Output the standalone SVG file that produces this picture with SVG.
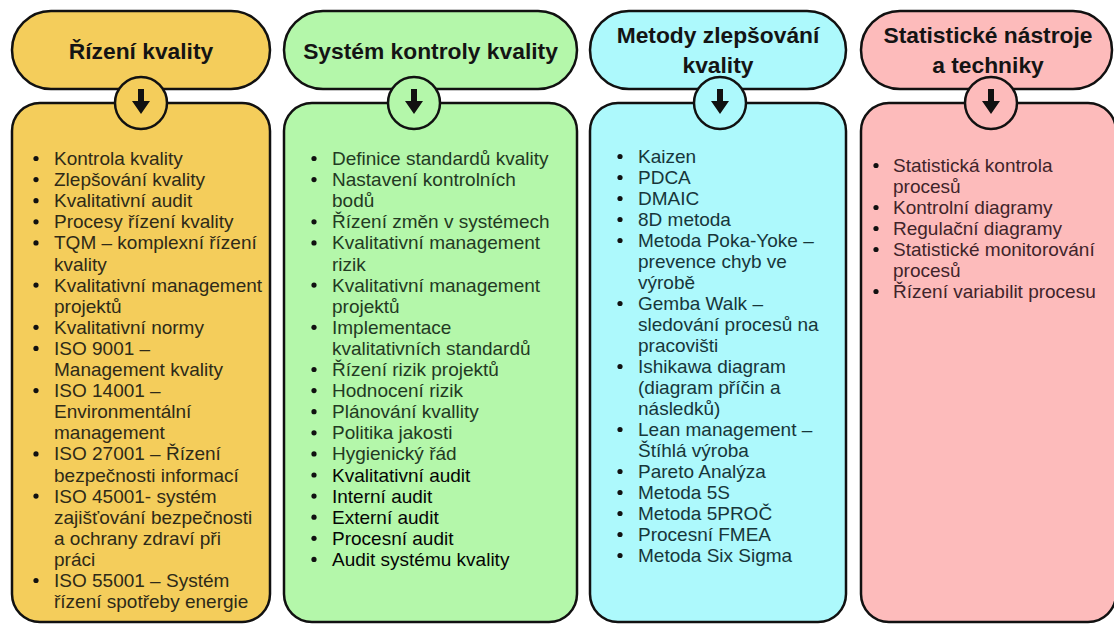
<svg xmlns="http://www.w3.org/2000/svg" width="1114" height="626" viewBox="0 0 1114 626">
<style>
.box{stroke:#111;stroke-width:2.5}
.y{fill:#F4CD5B}.g{fill:#B4F7AA}.b{fill:#ADF9FC}.p{fill:#FDBBBB}
.h{font-family:"Liberation Sans",Arial,sans-serif;font-weight:bold;font-size:22.8px;fill:#141414;text-anchor:middle}
.t{font-family:"Liberation Sans",Arial,sans-serif;font-size:19px}
.ty{fill:#2e2a18}.tg{fill:#233a23}.tb{fill:#17363a}.tp{fill:#40242a}
.dk{fill:#050505}
.bul{fill:#111}
.circ{stroke:#111;stroke-width:2.5}
.arr{fill:#111}
</style>
<defs>
<path id="arrow" d="M-3,-13 H3 V-1 H9 L0,12 L-9,-1 H-3 Z"/>
</defs>

<g id="col1">
<g id="header1"><rect class="box y" x="12" y="11" width="258" height="78" rx="39"/>
<text class="h" x="141" y="59">Řízení kvality</text></g>
<g id="body1"><rect class="box y" x="12" y="103" width="258" height="519" rx="28"/>
<g class="bul">
<circle cx="36" cy="158.5" r="2.6"/><circle cx="36" cy="179.6" r="2.6"/><circle cx="36" cy="200.7" r="2.6"/><circle cx="36" cy="221.8" r="2.6"/><circle cx="36" cy="242.9" r="2.6"/><circle cx="36" cy="285.1" r="2.6"/><circle cx="36" cy="327.3" r="2.6"/><circle cx="36" cy="348.4" r="2.6"/><circle cx="36" cy="390.6" r="2.6"/><circle cx="36" cy="453.9" r="2.6"/><circle cx="36" cy="496.1" r="2.6"/><circle cx="36" cy="580.5" r="2.6"/>
</g>
<text class="t ty">
<tspan x="54" y="165">Kontrola kvality</tspan>
<tspan x="54" y="186.1">Zlepšování kvality</tspan>
<tspan x="54" y="207.2">Kvalitativní audit</tspan>
<tspan x="54" y="228.3">Procesy řízení kvality</tspan>
<tspan x="54" y="249.4">TQM – komplexní řízení</tspan>
<tspan x="54" y="270.5">kvality</tspan>
<tspan x="54" y="291.6">Kvalitativní management</tspan>
<tspan x="54" y="312.7">projektů</tspan>
<tspan x="54" y="333.8">Kvalitativní normy</tspan>
<tspan x="54" y="354.9">ISO 9001 –</tspan>
<tspan x="54" y="376">Management kvality</tspan>
<tspan x="54" y="397.1">ISO 14001 –</tspan>
<tspan x="54" y="418.2">Environmentální</tspan>
<tspan x="54" y="439.3">management</tspan>
<tspan x="54" y="460.4">ISO 27001 – Řízení</tspan>
<tspan x="54" y="481.5">bezpečnosti informací</tspan>
<tspan x="54" y="502.6">ISO 45001- systém</tspan>
<tspan x="54" y="523.7">zajišťování bezpečnosti</tspan>
<tspan x="54" y="544.8">a ochrany zdraví při</tspan>
<tspan x="54" y="565.9">práci</tspan>
<tspan x="54" y="587">ISO 55001 – Systém</tspan>
<tspan x="54" y="608.1">řízení spotřeby energie</tspan>
</text></g>
</g>

<g id="col2">
<g id="header2"><rect class="box g" x="284" y="11" width="293" height="78" rx="39"/>
<text class="h" x="430.5" y="59">Systém kontroly kvality</text></g>
<g id="body2"><rect class="box g" x="284" y="103" width="293" height="519" rx="28"/>
<g class="bul">
<circle cx="314" cy="158.5" r="2.6"/><circle cx="314" cy="179.6" r="2.6"/><circle cx="314" cy="221.8" r="2.6"/><circle cx="314" cy="242.9" r="2.6"/><circle cx="314" cy="285.1" r="2.6"/><circle cx="314" cy="327.3" r="2.6"/><circle cx="314" cy="369.5" r="2.6"/><circle cx="314" cy="390.6" r="2.6"/><circle cx="314" cy="411.7" r="2.6"/><circle cx="314" cy="432.8" r="2.6"/><circle cx="314" cy="453.9" r="2.6"/><circle cx="314" cy="475" r="2.6"/><circle cx="314" cy="496.1" r="2.6"/><circle cx="314" cy="517.2" r="2.6"/><circle cx="314" cy="538.3" r="2.6"/><circle cx="314" cy="559.4" r="2.6"/>
</g>
<text class="t tg">
<tspan x="332" y="165">Definice standardů kvality</tspan>
<tspan x="332" y="186.1">Nastavení kontrolních</tspan>
<tspan x="332" y="207.2">bodů</tspan>
<tspan x="332" y="228.3">Řízení změn v systémech</tspan>
<tspan x="332" y="249.4">Kvalitativní management</tspan>
<tspan x="332" y="270.5">rizik</tspan>
<tspan x="332" y="291.6">Kvalitativní management</tspan>
<tspan x="332" y="312.7">projektů</tspan>
<tspan x="332" y="333.8">Implementace</tspan>
<tspan x="332" y="354.9">kvalitativních standardů</tspan>
<tspan x="332" y="376">Řízení rizik projektů</tspan>
<tspan x="332" y="397.1">Hodnocení rizik</tspan>
<tspan x="332" y="418.2">Plánování kvallity</tspan>
<tspan x="332" y="439.3">Politika jakosti</tspan>
<tspan x="332" y="460.4">Hygienický řád</tspan>
</text>
<text class="t dk">
<tspan x="332" y="481.5">Kvalitativní audit</tspan>
<tspan x="332" y="502.6">Interní audit</tspan>
<tspan x="332" y="523.7">Externí audit</tspan>
<tspan x="332" y="544.8">Procesní audit</tspan>
<tspan x="332" y="565.9">Audit systému kvality</tspan>
</text></g>
</g>

<g id="col3">
<g id="header3"><rect class="box b" x="590" y="11" width="256" height="78" rx="39"/>
<text class="h" x="718" y="43">Metody zlepšování</text>
<text class="h" x="718" y="73">kvality</text></g>
<g id="body3"><rect class="box b" x="590" y="103" width="256" height="519" rx="28"/>
<g class="bul">
<circle cx="620" cy="156.5" r="2.6"/><circle cx="620" cy="177.5" r="2.6"/><circle cx="620" cy="198.5" r="2.6"/><circle cx="620" cy="219.5" r="2.6"/><circle cx="620" cy="240.5" r="2.6"/><circle cx="620" cy="303.5" r="2.6"/><circle cx="620" cy="366.5" r="2.6"/><circle cx="620" cy="429.5" r="2.6"/><circle cx="620" cy="471.5" r="2.6"/><circle cx="620" cy="492.5" r="2.6"/><circle cx="620" cy="513.5" r="2.6"/><circle cx="620" cy="534.5" r="2.6"/><circle cx="620" cy="555.5" r="2.6"/>
</g>
<text class="t tb">
<tspan x="638" y="163">Kaizen</tspan>
<tspan x="638" y="184">PDCA</tspan>
<tspan x="638" y="205">DMAIC</tspan>
<tspan x="638" y="226">8D metoda</tspan>
<tspan x="638" y="247">Metoda Poka-Yoke –</tspan>
<tspan x="638" y="268">prevence chyb ve</tspan>
<tspan x="638" y="289">výrobě</tspan>
<tspan x="638" y="310">Gemba Walk –</tspan>
<tspan x="638" y="331">sledování procesů na</tspan>
<tspan x="638" y="352">pracovišti</tspan>
<tspan x="638" y="373">Ishikawa diagram</tspan>
<tspan x="638" y="394">(diagram příčin a</tspan>
<tspan x="638" y="415">následků)</tspan>
<tspan x="638" y="436">Lean management –</tspan>
<tspan x="638" y="457">Štíhlá výroba</tspan>
<tspan x="638" y="478">Pareto Analýza</tspan>
<tspan x="638" y="499">Metoda 5S</tspan>
<tspan x="638" y="520">Metoda 5PROČ</tspan>
<tspan x="638" y="541">Procesní FMEA</tspan>
<tspan x="638" y="562">Metoda Six Sigma</tspan>
</text></g>
</g>

<g id="col4">
<g id="header4"><rect class="box p" x="861" y="11" width="251" height="78" rx="39"/>
<text class="h" x="988" y="43">Statistické nástroje</text>
<text class="h" x="988" y="73">a techniky</text></g>
<g id="body4"><rect class="box p" x="861" y="103" width="255" height="519" rx="28"/>
<g class="bul">
<circle cx="876" cy="165.5" r="2.6"/><circle cx="876" cy="207.5" r="2.6"/><circle cx="876" cy="228.5" r="2.6"/><circle cx="876" cy="249.5" r="2.6"/><circle cx="876" cy="291.5" r="2.6"/>
</g>
<text class="t tp">
<tspan x="893" y="172">Statistická kontrola</tspan>
<tspan x="893" y="193">procesů</tspan>
<tspan x="893" y="214">Kontrolní diagramy</tspan>
<tspan x="893" y="235">Regulační diagramy</tspan>
<tspan x="893" y="256">Statistické monitorování</tspan>
<tspan x="893" y="277">procesů</tspan>
<tspan x="893" y="298">Řízení variabilit procesu</tspan>
</text></g>
</g>

<g id="connectors">
<circle class="circ y" cx="141" cy="103" r="26"/><use href="#arrow" class="arr" x="141" y="102"/>
<circle class="circ g" cx="414" cy="103" r="26"/><use href="#arrow" class="arr" x="414" y="102"/>
<circle class="circ b" cx="720" cy="103" r="26"/><use href="#arrow" class="arr" x="720" y="102"/>
<circle class="circ p" cx="991" cy="103" r="26"/><use href="#arrow" class="arr" x="991" y="102"/>
</g>
</svg>
